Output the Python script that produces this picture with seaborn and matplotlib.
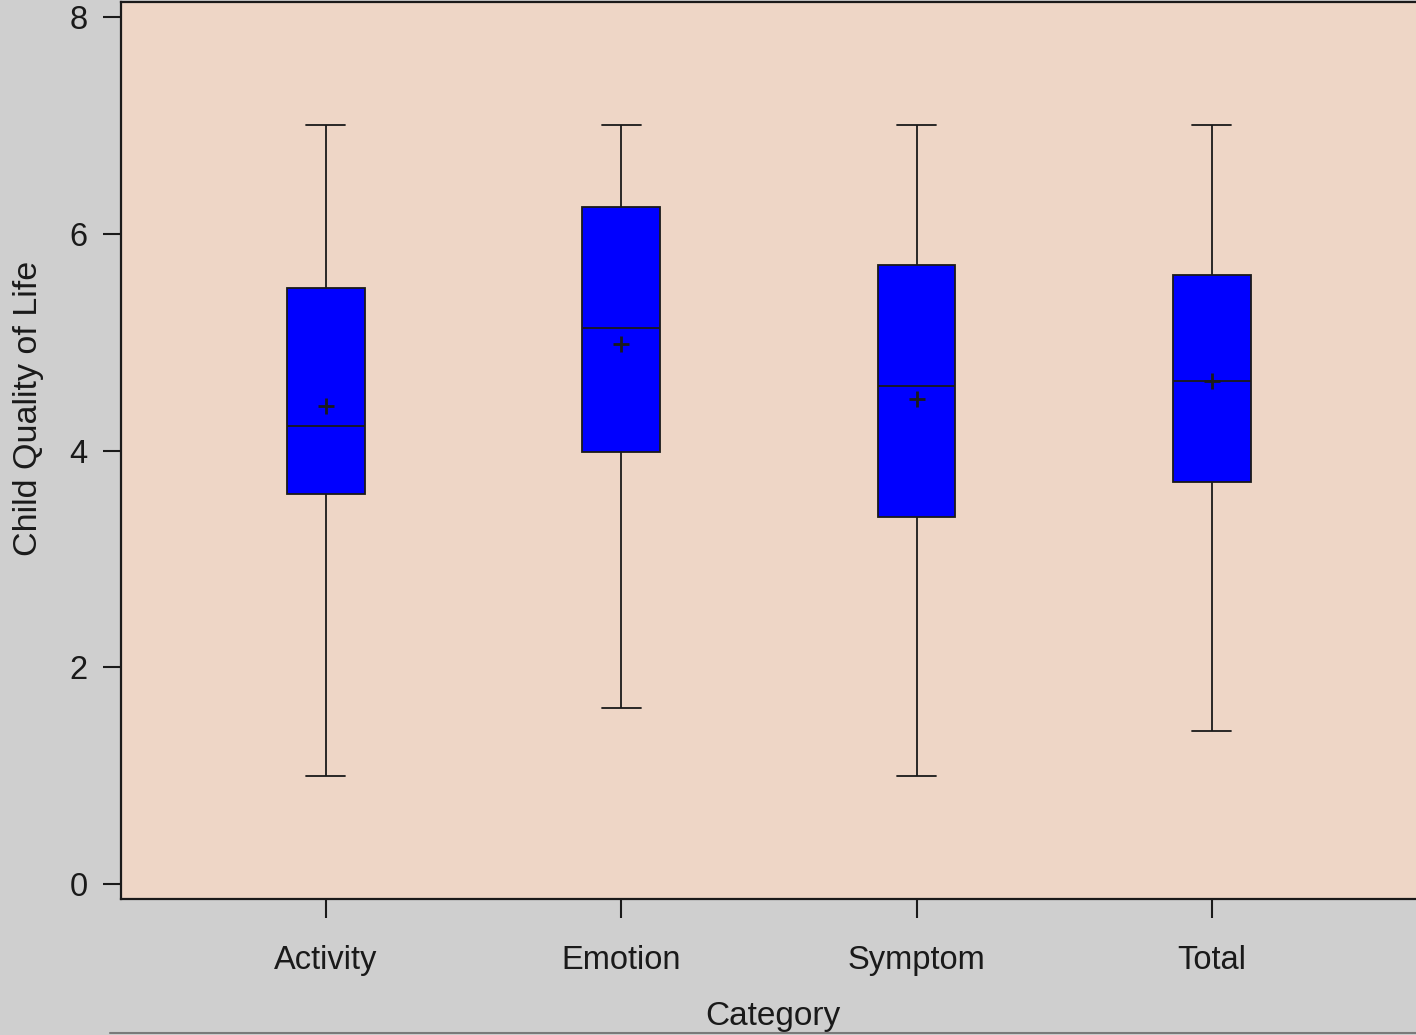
import matplotlib
matplotlib.use("Agg")
import matplotlib.pyplot as plt
import pandas as pd
import seaborn as sns
from matplotlib.lines import Line2D

# five-number summaries and means
categories = ["Activity", "Emotion", "Symptom", "Total"]
whisker_low = [1.00, 1.62, 1.00, 1.41]
quartile_1 = [3.60, 3.99, 3.39, 3.71]
medians = [4.23, 5.13, 4.60, 4.64]
quartile_3 = [5.50, 6.25, 5.71, 5.62]
whisker_high = [7.00, 7.00, 7.00, 7.00]
means = [4.41, 4.98, 4.48, 4.64]

FIG_BG = "#cfcfcf"
AX_BG = "#eed6c6"
INK = "#1a1a1a"

rows = []
for i, cat in enumerate(categories):
    for value in (whisker_low[i], quartile_1[i], medians[i], quartile_3[i], whisker_high[i]):
        rows.append({"category": cat, "score": value})
scores = pd.DataFrame(rows)
mean_df = pd.DataFrame({"category": categories, "mean": means})

sns.set_style("ticks")
plt.rcParams.update(
    {
        "font.family": ["Liberation Sans", "DejaVu Sans"],
        "font.size": 23,
        "text.color": INK,
        "axes.labelcolor": INK,
        "xtick.color": INK,
        "ytick.color": INK,
    }
)

fig = plt.figure(figsize=(14.16, 10.35), dpi=100, facecolor=FIG_BG)
ax = fig.add_axes([0.0855, 0.1314, 0.92, 0.8666])
ax.set_facecolor(AX_BG)

sns.boxplot(
    data=scores,
    x="category",
    y="score",
    order=categories,
    width=0.264,
    whis=(0, 100),
    color="#0000ff",
    saturation=1,
    linecolor=INK,
    linewidth=1.3,
    fliersize=0,
    ax=ax,
)
sns.pointplot(
    data=mean_df,
    x="category",
    y="mean",
    order=categories,
    errorbar=None,
    linestyle="none",
    marker="+",
    markersize=12,
    markeredgewidth=2,
    color=INK,
    ax=ax,
)

ax.set_xlim(-0.694, 3.718)
ax.set_ylim(-0.138, 8.138)
ax.set_yticks([0, 2, 4, 6, 8])
ax.set_xticks(range(len(categories)))
ax.set_xticklabels(categories)
ax.set_xlabel("Category", labelpad=18, fontsize=24)
ax.set_ylabel("Child Quality of Life", fontsize=24.5)
ax.yaxis.set_label_coords(-0.059, 0.547)
ax.tick_params(axis="x", length=14, width=1.5, pad=19, labelsize=23.5)
ax.tick_params(axis="y", length=13, width=1.5, pad=11, labelsize=23.5)
for side in ("left", "bottom", "top", "right"):
    ax.spines[side].set_visible(True)
    ax.spines[side].set_color(INK)
    ax.spines[side].set_linewidth(1.6)

# thin frame edge along the bottom of the image
fig.add_artist(Line2D([0.078, 1.0], [0.0015, 0.0015], transform=fig.transFigure, color="#7a7a7a", linewidth=1.5))

fig.savefig("out.png", dpi=100, facecolor=FIG_BG)
